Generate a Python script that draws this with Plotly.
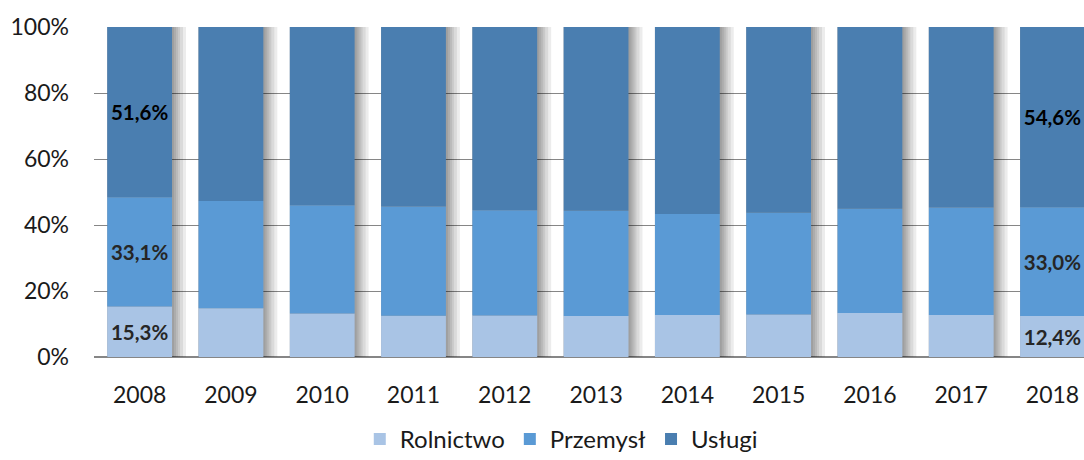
import plotly.graph_objects as go

years = ["2008", "2009", "2010", "2011", "2012", "2013", "2014", "2015", "2016", "2017", "2018"]
rolnictwo = [15.3, 14.8, 13.2, 12.5, 12.6, 12.4, 12.7, 12.9, 13.3, 12.7, 12.4]
przemysl = [33.1, 32.5, 32.8, 33.1, 31.9, 31.9, 30.6, 30.8, 31.6, 32.6, 33.0]
uslugi = [51.6, 52.7, 54.0, 54.4, 55.5, 55.7, 56.7, 56.3, 55.1, 54.7, 54.6]
labelled_years = ["2008", "2018"]
y_ticks = [0, 20, 40, 60, 80, 100]
y_tick_text = ["0%", "20%", "40%", "60%", "80%", "100%"]

FONT = "Lato"
C_ROL = "#A9C4E5"
C_PRZ = "#5A9AD5"
C_USL = "#4A7EB0"
BAR_W = 0.71
PX = 1 / 91.3  # one pixel in category units


def fmt(v):
    return f"{v:.1f}".replace(".", ",") + "%"


def labels(vals):
    return [fmt(v) if y in labelled_years else "" for y, v in zip(years, vals)]


fig = go.Figure()

# soft shadow on the right side of each column
totals = [r + p + u for r, p, u in zip(rolnictwo, przemysl, uslugi)]
for k in [14, 11, 8, 6, 4, 2]:
    fig.add_trace(go.Bar(
        x=years, y=totals, base=0,
        width=BAR_W + k * PX, offset=-BAR_W / 2,
        marker=dict(color="rgba(0,0,0,0.075)", line=dict(width=0)),
        showlegend=False, hoverinfo="skip",
    ))

base_prz = rolnictwo
base_usl = [r + p for r, p in zip(rolnictwo, przemysl)]

series = [
    ("Rolnictwo", rolnictwo, [0] * len(years), C_ROL, "#262626"),
    ("Przemysł", przemysl, base_prz, C_PRZ, "#262626"),
    ("Usługi", uslugi, base_usl, C_USL, "#000000"),
]
for name, vals, base, col, tcol in series:
    fig.add_trace(go.Bar(
        x=years, y=vals, base=base, name=name,
        width=BAR_W, offset=-BAR_W / 2,
        marker=dict(color=col, line=dict(width=0)),
        text=labels(vals), textposition="inside", insidetextanchor="middle",
        textangle=0,
        textfont=dict(family=FONT, size=20.5, color=tcol, weight="bold"),
        constraintext="none",
    ))

fig.update_layout(
    width=1084, height=460,
    margin=dict(l=94, r=0, t=27, b=103, autoexpand=False),
    barmode="overlay",
    plot_bgcolor="white", paper_bgcolor="white",
    font=dict(family=FONT, size=23, color="#1a1a1a"),
    showlegend=True,
    legend=dict(
        orientation="h", x=0.472, xanchor="center",
        yref="container", y=0.045, yanchor="middle",
        font=dict(family=FONT, size=24, color="#1a1a1a"),
        traceorder="normal", itemclick=False,
    ),
)
fig.update_xaxes(
    type="category", range=[-0.5, 10.345],
    showgrid=False, showline=False, ticks="",
    tickfont=dict(family=FONT, size=23, color="#1a1a1a"),
    ticklabelstandoff=22, automargin=False,
)
fig.update_yaxes(
    range=[0, 100], tickmode="array", tickvals=y_ticks, ticktext=y_tick_text,
    showgrid=True, gridcolor="#868686", gridwidth=1.4,
    zeroline=True, zerolinecolor="#868686", zerolinewidth=1.6,
    showline=False, ticks="",
    tickfont=dict(family=FONT, size=23, color="#1a1a1a"),
    ticklabelstandoff=24, automargin=False,
)

fig.write_html(
    "out.html",
    config={"displayModeBar": False},
    post_script="document.body.style.margin='0';document.body.style.overflow='hidden';",
)
